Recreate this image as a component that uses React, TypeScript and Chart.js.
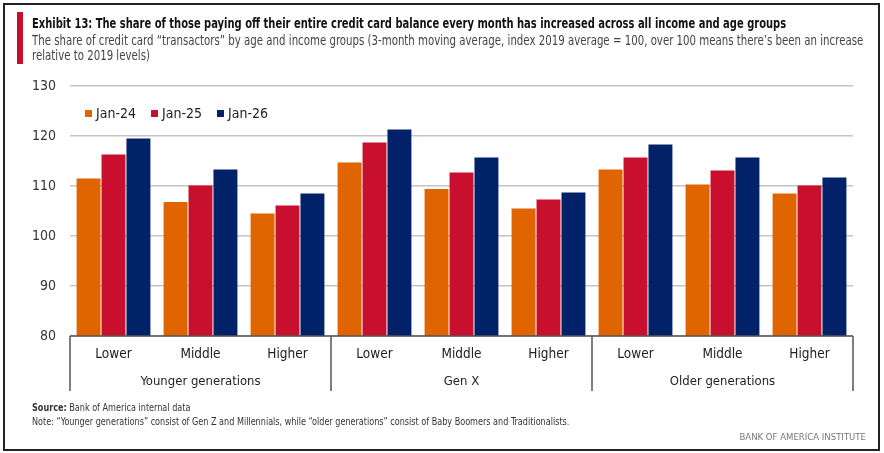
import React, { useEffect, useRef } from 'react'
import { Chart, registerables } from 'chart.js'

Chart.register(...registerables)

const CATEGORIES = ['Lower', 'Middle', 'Higher', 'Lower', 'Middle', 'Higher', 'Lower', 'Middle', 'Higher']
const GROUPS = ['Younger generations', 'Gen X', 'Older generations']
const GROUP_SIZE = 3
const SERIES_LABELS = ['Jan-24', 'Jan-25', 'Jan-26']
const JAN24 = [111.5, 106.8, 104.5, 114.7, 109.4, 105.5, 113.3, 110.3, 108.5]
const JAN25 = [116.3, 110.1, 106.1, 118.7, 112.7, 107.3, 115.7, 113.1, 110.1]
const JAN26 = [119.5, 113.3, 108.5, 121.3, 115.7, 108.7, 118.3, 115.7, 111.7]
const Y_MIN = 80
const Y_MAX = 130
const Y_STEP = 10

const COLORS = ['#E06400', '#C8102E', '#012169']
const FONT = '"DejaVu Sans Condensed", "Liberation Sans Narrow", "Roboto", sans-serif'

// draws the box under the bars, the separators and the generation labels
const groupAxisPlugin = {
  id: 'groupAxis',
  afterDraw(chart: any) {
    const { ctx, chartArea } = chart
    const x = chart.scales.x
    const bottom = chartArea.bottom
    const lineEnd = bottom + 55
    const edge = (i: number) => {
      if (i <= 0) return chartArea.left
      if (i >= CATEGORIES.length) return chartArea.right
      return (x.getPixelForValue(i - 1) + x.getPixelForValue(i)) / 2
    }
    ctx.save()
    ctx.strokeStyle = '#555'
    ctx.lineWidth = 1.5
    ctx.beginPath()
    ctx.moveTo(chartArea.left, bottom)
    ctx.lineTo(chartArea.right, bottom)
    for (let g = 0; g <= GROUPS.length; g++) {
      const px = edge(g * GROUP_SIZE)
      ctx.moveTo(px, bottom)
      ctx.lineTo(px, lineEnd)
    }
    ctx.stroke()
    ctx.fillStyle = '#222'
    ctx.font = `13px ${FONT}`
    ctx.textAlign = 'center'
    ctx.textBaseline = 'middle'
    GROUPS.forEach((name, g) => {
      const cx = (edge(g * GROUP_SIZE) + edge((g + 1) * GROUP_SIZE)) / 2
      ctx.fillText(name, cx, bottom + 46)
    })
    ctx.restore()
  },
}

export default function App() {
  const canvasRef = useRef<HTMLCanvasElement>(null)
  const chartRef = useRef<Chart | null>(null)

  useEffect(() => {
    if (!canvasRef.current) return
    const ctx = canvasRef.current.getContext('2d')
    if (!ctx) return
    chartRef.current = new Chart(ctx, {
      type: 'bar',
      data: {
        labels: CATEGORIES,
        datasets: [JAN24, JAN25, JAN26].map((data, i) => ({
          label: SERIES_LABELS[i],
          data,
          backgroundColor: COLORS[i],
          borderWidth: 0,
          categoryPercentage: 0.86,
          barPercentage: 0.96,
        })),
      },
      options: {
        responsive: true,
        maintainAspectRatio: false,
        animation: false,
        layout: { padding: { left: 0, right: 31, top: 86, bottom: 0 } },
        plugins: { legend: { display: false }, tooltip: { enabled: false } },
        scales: {
          x: {
            grid: { display: false },
            border: { display: false },
            ticks: { color: '#222', font: { family: FONT, size: 13.5 }, padding: 2, maxRotation: 0 },
            afterFit: (s: any) => { s.height = 117 },
          },
          y: {
            min: Y_MIN,
            max: Y_MAX,
            ticks: { stepSize: Y_STEP, color: '#333', font: { family: FONT, size: 14 }, padding: 14 },
            grid: { color: '#c4c4c4', lineWidth: 1.5, drawTicks: false },
            border: { display: false },
            afterFit: (s: any) => { s.width = 70 },
          },
        },
      },
      plugins: [groupAxisPlugin],
    })
    return () => {
      if (chartRef.current) chartRef.current.destroy()
      chartRef.current = null
    }
  }, [])

  const narrow = (k: number): React.CSSProperties => ({ transform: `scaleX(${k})`, transformOrigin: 'left top', whiteSpace: 'nowrap' })

  return (
    <div style={{ position: 'absolute', left: 0, top: 0, width: 884, height: 453, background: '#fff', fontFamily: FONT, overflow: 'hidden' }}>
      <div style={{ position: 'absolute', left: 0, top: 0, width: 884, height: 453 }}>
        <canvas ref={canvasRef}></canvas>
      </div>
      <div style={{ position: 'absolute', left: 3, top: 3, width: 877, height: 448, border: '2px solid #222', boxSizing: 'border-box', pointerEvents: 'none' }} />
      <div style={{ position: 'absolute', left: 17, top: 12, width: 6, height: 52, background: '#C8102E' }} />
      <div style={{ position: 'absolute', left: 32, top: 14, fontSize: 14, fontWeight: 'bold', color: '#111', lineHeight: '18px', ...narrow(0.79) }}>
        Exhibit 13: The share of those paying off their entire credit card balance every month has increased across all income and age groups
      </div>
      <div style={{ position: 'absolute', left: 32, top: 33, fontSize: 14, color: '#444', lineHeight: '15px', ...narrow(0.81) }}>
        The share of credit card “transactors” by age and income groups (3-month moving average, index 2019 average = 100, over 100 means there’s been an increase
        <br />
        relative to 2019 levels)
      </div>
      <div style={{ position: 'absolute', left: 85, top: 105, display: 'flex', alignItems: 'center', fontSize: 14, color: '#222' }}>
        {SERIES_LABELS.map((label, i) => (
          <span key={label} style={{ display: 'flex', alignItems: 'center', marginRight: 15 }}>
            <span style={{ display: 'inline-block', width: 7, height: 7, background: COLORS[i], marginRight: 4 }} />
            {label}
          </span>
        ))}
      </div>
      <div style={{ position: 'absolute', left: 32, top: 402, fontSize: 10, color: '#333', ...narrow(0.9) }}>
        <b>Source:</b> Bank of America internal data
      </div>
      <div style={{ position: 'absolute', left: 32, top: 416, fontSize: 10, color: '#333', ...narrow(0.9) }}>
        Note: “Younger generations” consist of Gen Z and Millennials, while “older generations” consist of Baby Boomers and Traditionalists.
      </div>
      <div style={{ position: 'absolute', right: 18, top: 431, fontSize: 9.5, color: '#777', whiteSpace: 'nowrap' }}>
        BANK OF AMERICA INSTITUTE
      </div>
    </div>
  )
}
